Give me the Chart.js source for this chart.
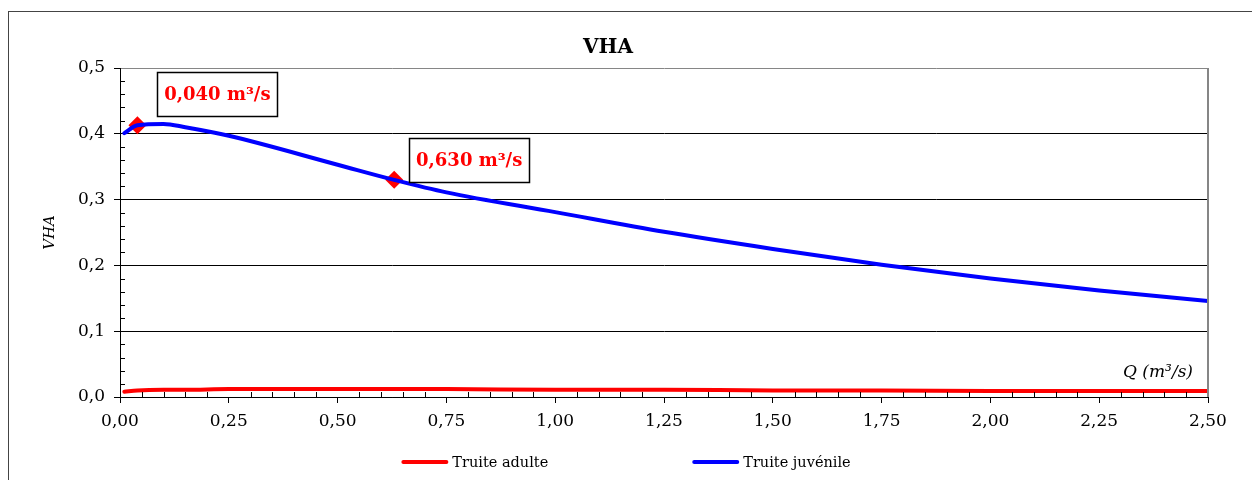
<!DOCTYPE html>
<html>
<head>
<meta charset="utf-8">
<script src="https://cdn.jsdelivr.net/npm/chart.js@4.4.1/dist/chart.umd.min.js"></script>
<style>
html, body { margin: 0; padding: 0; background: #fff; overflow: hidden; }
</style>
</head>
<body>
<canvas id="graficoVHA" width="1252" height="480"></canvas>
<script>
// Données
const debits = [0.01, 0.04, 0.1, 0.15, 0.25, 0.5, 0.63, 0.75, 1.0, 1.25, 1.5, 1.75, 2.0, 2.25, 2.5];
const vhaAdulte = [0.008, 0.010, 0.011, 0.011, 0.012, 0.012, 0.012, 0.012, 0.011, 0.011, 0.010, 0.010, 0.009, 0.009, 0.009];
const vhaJuvenile = [0.401, 0.413, 0.415, 0.410, 0.397, 0.353, 0.330, 0.311, 0.281, 0.251, 0.225, 0.201, 0.180, 0.162, 0.146];
const pointsQ = [0.04, 0.63];
const pointsVHA = [0.413, 0.330];
const pointsTexte = ['0,040 m³/s', '0,630 m³/s'];
const seriesNoms = ['Truite adulte', 'Truite juvénile'];
const seriesCouleurs = ['#ff0000', '#0000ff'];

const POLICE = "'DejaVu Serif', serif";

const toXY = (xs, ys) => xs.map((x, i) => ({ x: x, y: ys[i] }));

// cadres, graduations secondaires, étiquettes, légende
const decor = {
    id: 'decor',
    afterDraw(chart) {
        const ctx = chart.ctx;
        const ca = chart.chartArea;
        const sx = chart.scales.x;
        const sy = chart.scales.y;
        ctx.save();

        // cadre extérieur
        ctx.strokeStyle = '#444';
        ctx.lineWidth = 1;
        ctx.strokeRect(8.5, 11.5, 1300, 600);

        // bord droit gris
        ctx.strokeStyle = '#868686';
        ctx.lineWidth = 2;
        ctx.beginPath();
        ctx.moveTo(ca.right, ca.top);
        ctx.lineTo(ca.right, ca.bottom);
        ctx.stroke();

        // graduations secondaires
        ctx.strokeStyle = '#000';
        ctx.lineWidth = 1;
        ctx.beginPath();
        for (let k = 1; k < 25; k++) {
            if (k % 5 === 0) continue;
            const py = Math.round(sy.getPixelForValue(k * 0.02)) + 0.5;
            ctx.moveTo(ca.left, py);
            ctx.lineTo(ca.left + 5, py);
        }
        for (let k = 1; k < 50; k++) {
            if (k % 5 === 0) continue;
            const px = Math.round(sx.getPixelForValue(k * 0.05)) + 0.5;
            ctx.moveTo(px, ca.bottom);
            ctx.lineTo(px, ca.bottom - 5);
        }
        ctx.stroke();

        // titre de l'axe X
        ctx.fillStyle = '#000';
        ctx.font = 'italic 17px ' + POLICE;
        ctx.textAlign = 'right';
        ctx.textBaseline = 'middle';
        ctx.fillText('Q (m³/s)', ca.right - 15, sy.getPixelForValue(0) - 24);

        // étiquettes des points
        const decal = [[80, -31], [75, -20]];
        ctx.font = 'bold 18px ' + POLICE;
        ctx.textAlign = 'center';
        pointsQ.forEach((q, i) => {
            const cx = sx.getPixelForValue(q) + decal[i][0];
            const cy = sy.getPixelForValue(pointsVHA[i]) + decal[i][1];
            ctx.fillStyle = '#fff';
            ctx.fillRect(cx - 60, cy - 22, 120, 44);
            ctx.strokeStyle = '#000';
            ctx.lineWidth = 1.5;
            ctx.strokeRect(Math.round(cx - 60) + 0.5, Math.round(cy - 22) + 0.5, 120, 44);
            ctx.fillStyle = '#ff0000';
            ctx.fillText(pointsTexte[i], cx, cy + 1);
        });

        // légende
        ctx.font = '14.5px ' + POLICE;
        ctx.textAlign = 'left';
        const largeurs = seriesNoms.map(n => 51 + ctx.measureText(n).width);
        const ecart = 144;
        let x = chart.width / 2 - (largeurs[0] + largeurs[1] + ecart) / 2;
        const ly = 462;
        seriesNoms.forEach((nom, i) => {
            ctx.strokeStyle = seriesCouleurs[i];
            ctx.lineWidth = 4;
            ctx.lineCap = 'round';
            ctx.beginPath();
            ctx.moveTo(x + 2, ly);
            ctx.lineTo(x + 45, ly);
            ctx.stroke();
            ctx.fillStyle = '#000';
            ctx.fillText(nom, x + 51, ly + 1);
            x += largeurs[i] + ecart;
        });
        ctx.restore();
    }
};

const ctxVHA = document.getElementById('graficoVHA').getContext('2d');
const graficoVHA = new Chart(ctxVHA, {
    type: 'scatter',
    data: {
        datasets: [{
            label: seriesNoms[0],
            data: toXY(debits, vhaAdulte),
            showLine: true,
            borderColor: seriesCouleurs[0],
            backgroundColor: seriesCouleurs[0],
            borderWidth: 4,
            pointRadius: 0,
            cubicInterpolationMode: 'monotone',
            borderCapStyle: 'round'
        }, {
            label: seriesNoms[1],
            data: toXY(debits, vhaJuvenile),
            showLine: true,
            borderColor: seriesCouleurs[1],
            backgroundColor: seriesCouleurs[1],
            borderWidth: 4,
            pointRadius: 0,
            cubicInterpolationMode: 'monotone',
            borderCapStyle: 'round'
        }, {
            label: 'points',
            data: toXY(pointsQ, pointsVHA),
            showLine: false,
            pointStyle: 'rectRot',
            pointRadius: 9,
            backgroundColor: '#ff0000',
            borderColor: '#ff0000',
            borderWidth: 0
        }]
    },
    options: {
        responsive: false,
        animation: false,
        layout: {
            padding: { left: 8, right: 44, top: 12, bottom: 43 }
        },
        plugins: {
            legend: { display: false },
            tooltip: { enabled: false },
            title: {
                display: true,
                text: 'VHA',
                color: '#000',
                font: { family: POLICE, size: 20, weight: 'bold' },
                padding: { top: 24, bottom: 8 }
            }
        },
        scales: {
            x: {
                type: 'linear',
                min: 0,
                max: 2.5,
                afterFit: s => { s.height = 40; },
                ticks: {
                    stepSize: 0.25,
                    color: '#000',
                    padding: 8,
                    maxRotation: 0,
                    font: { family: POLICE, size: 17 },
                    callback: v => v.toFixed(2).replace('.', ',')
                },
                grid: {
                    drawOnChartArea: false,
                    drawTicks: true,
                    tickLength: 6,
                    color: '#000'
                },
                border: { color: '#000', width: 1 }
            },
            y: {
                min: 0,
                max: 0.5,
                afterFit: s => { s.width = 112; },
                title: {
                    display: true,
                    text: 'VHA',
                    color: '#000',
                    font: { family: POLICE, size: 15, style: 'italic' },
                    padding: { top: 33, bottom: 0 }
                },
                ticks: {
                    stepSize: 0.1,
                    color: '#000',
                    padding: 9,
                    font: { family: POLICE, size: 17 },
                    callback: v => v.toFixed(1).replace('.', ',')
                },
                grid: {
                    color: c => (c.tick && c.tick.value >= 0.5 ? '#868686' : '#000'),
                    tickColor: '#000',
                    tickLength: 6,
                    lineWidth: 1
                },
                border: { color: '#000', width: 1 }
            }
        }
    },
    plugins: [decor]
});
</script>
</body>
</html>
